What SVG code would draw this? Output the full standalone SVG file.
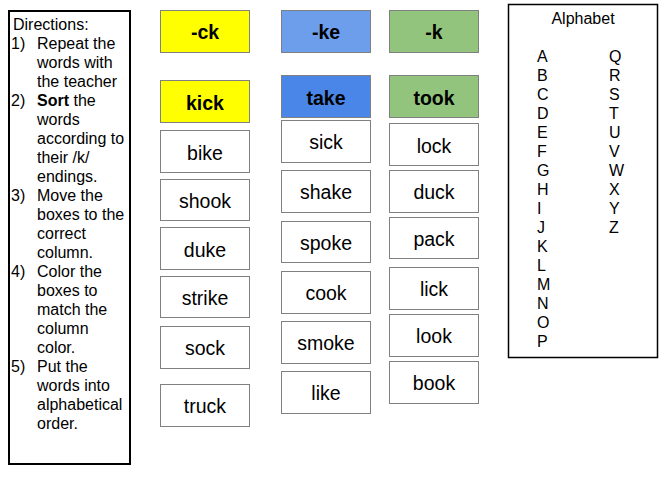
<svg xmlns="http://www.w3.org/2000/svg" width="664" height="480" viewBox="0 0 664 480">
<style>
text{font-family:"Liberation Sans",Arial,sans-serif;fill:#000}
.frame{fill:#fff;stroke:#000}
.card{stroke:#808080;stroke-width:1}
.w{fill:#fff}
.y{fill:#ffff00}
.b1{fill:#6d9eeb}
.b2{fill:#4a86e8}
.g{fill:#93c47d}
.t{font-size:19.5px;text-anchor:middle}
.h{font-size:19.5px;font-weight:bold;text-anchor:middle}
.d{font-size:16px}
.a{font-size:16px}
</style>
<rect width="664" height="480" fill="#fff"/>
<g id="directions">
<rect class="frame" x="9" y="11" width="121" height="453" stroke-width="2"/>
<text class="d" x="13" y="30">Directions:</text>
<text class="d" x="11" y="49">1)</text><text class="d" x="37" y="49">Repeat the</text>
<text class="d" x="37" y="68">words with</text>
<text class="d" x="37" y="87">the teacher</text>
<text class="d" x="11" y="106">2)</text><text class="d" x="37" y="106"><tspan font-weight="bold">Sort</tspan> the</text>
<text class="d" x="37" y="125">words</text>
<text class="d" x="37" y="144">according to</text>
<text class="d" x="37" y="163">their /k/</text>
<text class="d" x="37" y="182">endings.</text>
<text class="d" x="11" y="201">3)</text><text class="d" x="37" y="201">Move the</text>
<text class="d" x="37" y="220">boxes to the</text>
<text class="d" x="37" y="239">correct</text>
<text class="d" x="37" y="258">column.</text>
<text class="d" x="11" y="277">4)</text><text class="d" x="37" y="277">Color the</text>
<text class="d" x="37" y="296">boxes to</text>
<text class="d" x="37" y="315">match the</text>
<text class="d" x="37" y="334">column</text>
<text class="d" x="37" y="353">color.</text>
<text class="d" x="11" y="372">5)</text><text class="d" x="37" y="372">Put the</text>
<text class="d" x="37" y="391">words into</text>
<text class="d" x="37" y="410">alphabetical</text>
<text class="d" x="37" y="429">order.</text>
</g>
<g id="col-ck">
<g id="hdr-ck"><rect class="card y" x="160.5" y="10.5" width="89" height="42"/><text class="h" x="205" y="39">-ck</text></g>
<g id="w-kick"><rect class="card y" x="160.5" y="80.5" width="89" height="42"/><text class="h" x="205" y="109.5">kick</text></g>
<g id="w-bike"><rect class="card w" x="160.5" y="130.5" width="89" height="42"/><text class="t" x="205" y="159.5">bike</text></g>
<g id="w-shook"><rect class="card w" x="160.5" y="179.5" width="89" height="41"/><text class="t" x="205" y="208">shook</text></g>
<g id="w-duke"><rect class="card w" x="160.5" y="227.5" width="89" height="42"/><text class="t" x="205" y="256.5">duke</text></g>
<g id="w-strike"><rect class="card w" x="160.5" y="276.5" width="89" height="41"/><text class="t" x="205" y="304.5">strike</text></g>
<g id="w-sock"><rect class="card w" x="160.5" y="326.5" width="89" height="42"/><text class="t" x="205" y="354.5">sock</text></g>
<g id="w-truck"><rect class="card w" x="160.5" y="384.5" width="89" height="42"/><text class="t" x="205" y="413">truck</text></g>
</g>
<g id="col-ke">
<g id="hdr-ke"><rect class="card b1" x="281.5" y="10.5" width="89" height="42"/><text class="h" x="326" y="39">-ke</text></g>
<g id="w-take"><rect class="card b2" x="281.5" y="75.5" width="89" height="42"/><text class="h" x="326" y="104.5">take</text></g>
<g id="w-sick"><rect class="card w" x="281.5" y="120.5" width="89" height="42"/><text class="t" x="326" y="149">sick</text></g>
<g id="w-shake"><rect class="card w" x="281.5" y="170.5" width="89" height="42"/><text class="t" x="326" y="199">shake</text></g>
<g id="w-spoke"><rect class="card w" x="281.5" y="221.5" width="89" height="41"/><text class="t" x="326" y="250">spoke</text></g>
<g id="w-cook"><rect class="card w" x="281.5" y="271.5" width="89" height="42"/><text class="t" x="326" y="300">cook</text></g>
<g id="w-smoke"><rect class="card w" x="281.5" y="321.5" width="89" height="42"/><text class="t" x="326" y="350">smoke</text></g>
<g id="w-like"><rect class="card w" x="281.5" y="371.5" width="89" height="42"/><text class="t" x="326" y="400">like</text></g>
</g>
<g id="col-k">
<g id="hdr-k"><rect class="card g" x="389.5" y="10.5" width="89" height="42"/><text class="h" x="434" y="39">-k</text></g>
<g id="w-took"><rect class="card g" x="389.5" y="75.5" width="89" height="42"/><text class="h" x="434" y="104.5">took</text></g>
<g id="w-lock"><rect class="card w" x="389.5" y="123.5" width="89" height="42"/><text class="t" x="434" y="152.5">lock</text></g>
<g id="w-duck"><rect class="card w" x="389.5" y="170.5" width="89" height="42"/><text class="t" x="434" y="199">duck</text></g>
<g id="w-pack"><rect class="card w" x="389.5" y="217.5" width="89" height="41"/><text class="t" x="434" y="246">pack</text></g>
<g id="w-lick"><rect class="card w" x="389.5" y="267.5" width="89" height="42"/><text class="t" x="434" y="295.5">lick</text></g>
<g id="w-look"><rect class="card w" x="389.5" y="314.5" width="89" height="42"/><text class="t" x="434" y="342.5">look</text></g>
<g id="w-book"><rect class="card w" x="389.5" y="361.5" width="89" height="42"/><text class="t" x="434" y="390">book</text></g>
</g>
<g id="alphabet">
<rect class="frame" x="508.5" y="4.5" width="149" height="353" stroke-width="1.5"/>
<text class="a" x="583" y="24" text-anchor="middle">Alphabet</text>
<text class="a" x="537" y="62">A</text>
<text class="a" x="537" y="81">B</text>
<text class="a" x="537" y="100">C</text>
<text class="a" x="537" y="119">D</text>
<text class="a" x="537" y="138">E</text>
<text class="a" x="537" y="157">F</text>
<text class="a" x="537" y="176">G</text>
<text class="a" x="537" y="195">H</text>
<text class="a" x="537" y="214">I</text>
<text class="a" x="537" y="233">J</text>
<text class="a" x="537" y="252">K</text>
<text class="a" x="537" y="271">L</text>
<text class="a" x="537" y="290">M</text>
<text class="a" x="537" y="309">N</text>
<text class="a" x="537" y="328">O</text>
<text class="a" x="537" y="347">P</text>
<text class="a" x="609" y="62">Q</text>
<text class="a" x="609" y="81">R</text>
<text class="a" x="609" y="100">S</text>
<text class="a" x="609" y="119">T</text>
<text class="a" x="609" y="138">U</text>
<text class="a" x="609" y="157">V</text>
<text class="a" x="609" y="176">W</text>
<text class="a" x="609" y="195">X</text>
<text class="a" x="609" y="214">Y</text>
<text class="a" x="609" y="233">Z</text>
</g>
<g id="connectors"></g>
</svg>
